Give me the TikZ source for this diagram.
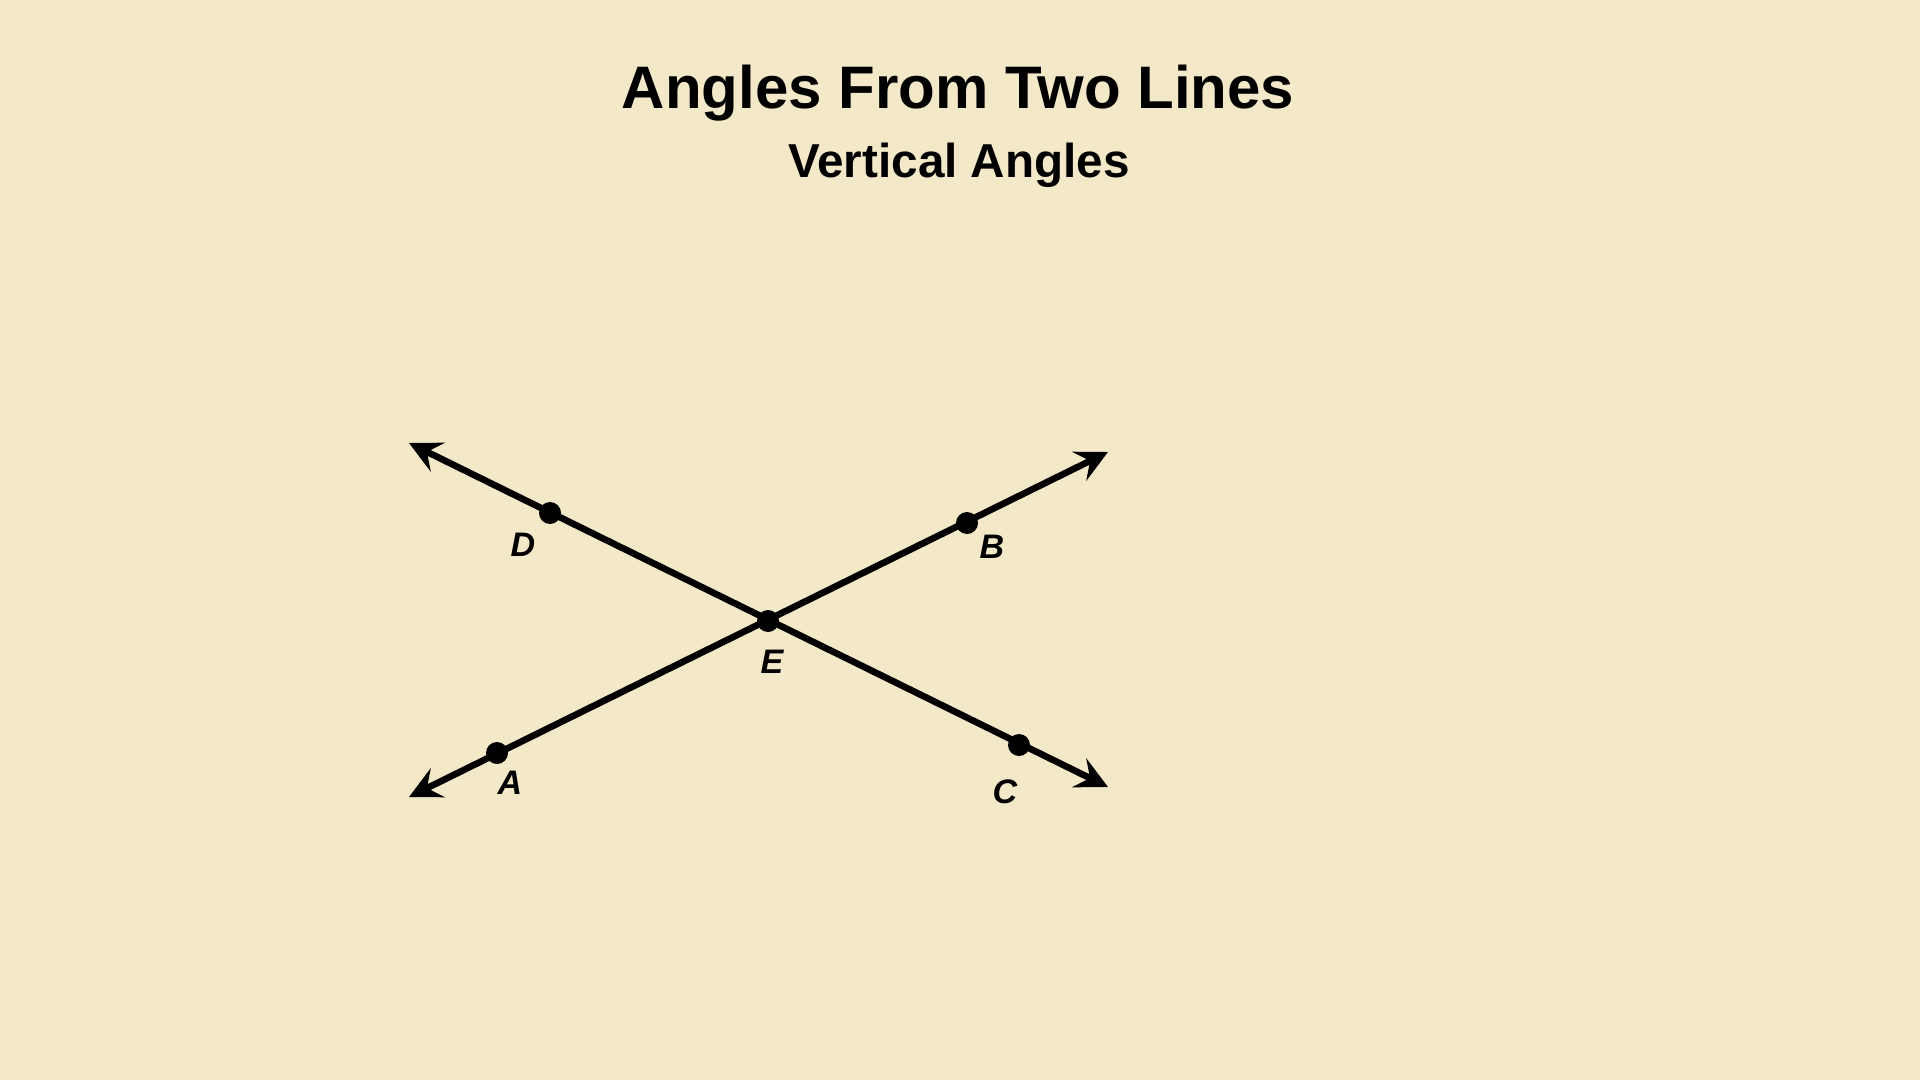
\documentclass[tikz,border=0pt]{standalone}
\usepackage{fontspec}
\setmainfont{Liberation Sans}
\usetikzlibrary{arrows.meta}
\definecolor{paper}{HTML}{F3E8C8}

\begin{document}
\begin{tikzpicture}[x=0.5pt, y=-0.5pt, line width=3.3pt,
    ray/.style={arrows={Stealth[length=16pt, width=16pt, inset=6pt]-Stealth[length=16pt, width=16pt, inset=6pt]}},
    lbl/.style={font=\bfseries\itshape\fontsize{17}{20}\selectfont}]
        \fill[paper] (0,0) rectangle (1920,1080);
        \useasboundingbox (0,0) rectangle (1920,1080);

        \node[anchor=base, font=\bfseries\fontsize{30}{36}\selectfont] (title) at (958,109) {Angles From Two Lines};
        \node[anchor=base, font=\bfseries\fontsize{23.8}{28}\selectfont] (subtitle) at (959,178) {Vertical Angles};

        \coordinate (E) at (768,621);
        \coordinate (A) at (497,753);
        \coordinate (B) at (967,523);
        \coordinate (C) at (1019,745);
        \coordinate (D) at (550,513);
        \coordinate (tipA) at (409,797);
        \coordinate (tipB) at (1108,452);
        \coordinate (tipC) at (1108,787);
        \coordinate (tipD) at (409,443);

        \draw[ray] (tipA) -- (tipB);
        \draw[ray] (tipD) -- (tipC);

        \foreach \p in {A,B,C,D,E}
            \fill (\p) circle (5.5pt);

        \node[lbl] (labelD) at (523,545) {D};
        \node[lbl] (labelB) at (992,547) {B};
        \node[lbl] (labelE) at (772,662) {E};
        \node[lbl] (labelA) at (510,783) {A};
        \node[lbl] (labelC) at (1005,792) {C};
    \end{tikzpicture}
\end{document}
